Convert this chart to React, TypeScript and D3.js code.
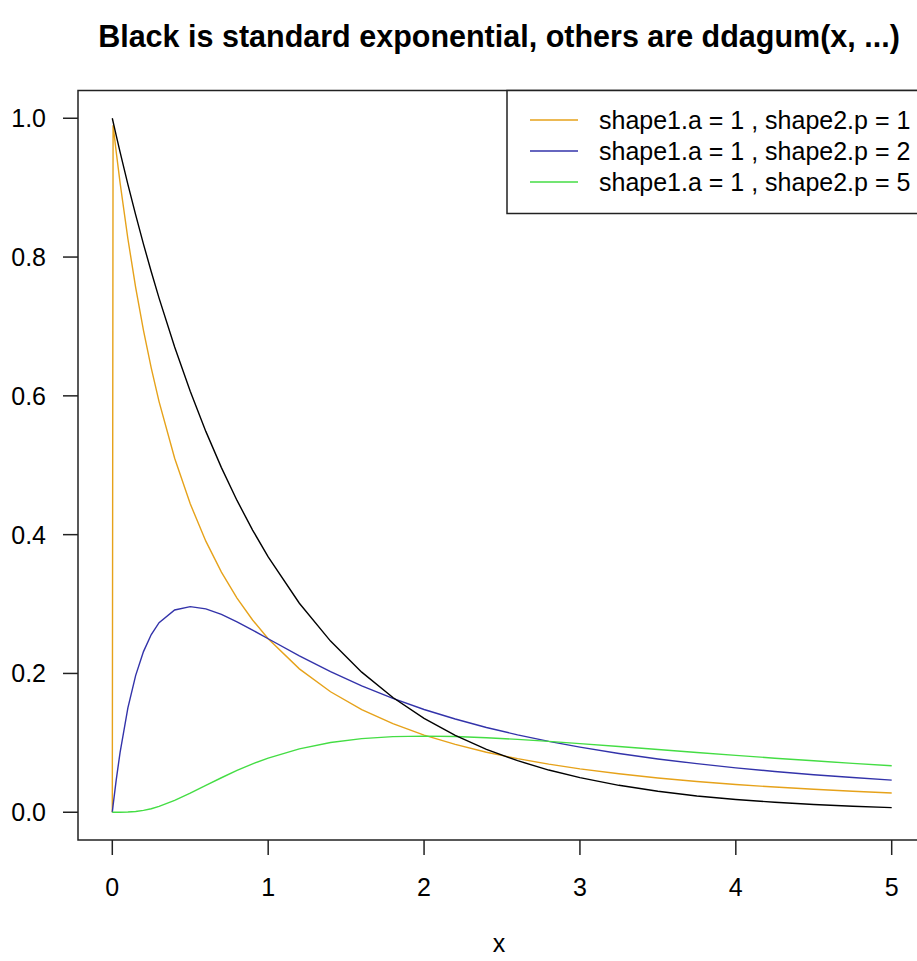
import { useMemo } from "react";
import * as d3 from "d3";

const WIDTH = 917;
const HEIGHT = 961;

// plot region (R style, padded domains)
const LEFT = 78;
const RIGHT = 926;
const TOP = 90.5;
const BOTTOM = 840;

const xValues = [
  0, 0.005, 0.025, 0.05, 0.1, 0.15, 0.2, 0.25, 0.3, 0.4, 0.5, 0.6, 0.7, 0.8, 0.9, 1.0,
  1.2, 1.4, 1.6, 1.8, 2.0, 2.2, 2.4, 2.6, 2.8, 3.0, 3.25, 3.5, 3.75, 4.0, 4.25, 4.5, 4.75, 5.0,
];

const expValues = [
  1, 0.995, 0.9753, 0.9512, 0.9048, 0.8607, 0.8187, 0.7788, 0.7408, 0.6703, 0.6065, 0.5488,
  0.4966, 0.4493, 0.4066, 0.3679, 0.3012, 0.2466, 0.2019, 0.1653, 0.1353, 0.1108, 0.0907,
  0.0743, 0.0608, 0.0498, 0.0388, 0.0302, 0.0235, 0.0183, 0.0143, 0.0111, 0.0087, 0.0067,
];

const p1Values = [
  0, 0.99, 0.9518, 0.907, 0.8264, 0.7561, 0.6944, 0.64, 0.5917, 0.5102, 0.4444, 0.3906,
  0.346, 0.3086, 0.277, 0.25, 0.2066, 0.1736, 0.1479, 0.1276, 0.1111, 0.0977, 0.0865,
  0.0772, 0.0693, 0.0625, 0.0554, 0.0494, 0.0443, 0.04, 0.0363, 0.0331, 0.0302, 0.0278,
];

const p2Values = [
  0, 0.0099, 0.0464, 0.0864, 0.1503, 0.1973, 0.2315, 0.256, 0.2731, 0.2915, 0.2963, 0.293,
  0.285, 0.2743, 0.2624, 0.25, 0.2254, 0.2025, 0.1821, 0.164, 0.1481, 0.1343, 0.1221,
  0.1115, 0.1021, 0.0938, 0.0847, 0.0768, 0.07, 0.064, 0.0587, 0.0541, 0.05, 0.0463,
];

const p5Values = [
  0, 0, 0, 0, 0.0003, 0.0011, 0.0027, 0.0051, 0.0084, 0.017, 0.0274, 0.0386, 0.0497,
  0.0602, 0.0697, 0.0781, 0.0914, 0.1005, 0.1061, 0.1089, 0.1097, 0.1091, 0.1074, 0.105,
  0.1021, 0.0989, 0.0947, 0.0904, 0.0861, 0.0819, 0.0779, 0.0741, 0.0704, 0.067,
];

const xTicks = [0, 1, 2, 3, 4, 5];
const yTicks = [0, 0.2, 0.4, 0.6, 0.8, 1.0];

const legendLabels = [
  "shape1.a = 1 , shape2.p = 1",
  "shape1.a = 1 , shape2.p = 2",
  "shape1.a = 1 , shape2.p = 5",
];
const legendColors = ["#E6A21A", "#3333AA", "#44DD44"];

const FONT = "'Liberation Sans', Arial, Helvetica, sans-serif";

export default function App() {
  // 0 sits 34px inside the left edge of the box, as in the original
  const x = useMemo(() => d3.scaleLinear().domain([0, 5]).range([112.3, 891.7]), []);
  const y = useMemo(() => d3.scaleLinear().domain([-0.04, 1.04]).range([BOTTOM, TOP]), []);

  const line = d3
    .line<[number, number]>()
    .x((d) => x(d[0]))
    .y((d) => y(d[1]));

  const series = [
    { values: p1Values, color: legendColors[0] },
    { values: p2Values, color: legendColors[1] },
    { values: p5Values, color: legendColors[2] },
    { values: expValues, color: "#000000" },
  ];

  return (
    <div style={{ position: "absolute", left: 0, top: 0 }}>
      <svg width={WIDTH} height={HEIGHT} style={{ display: "block", background: "#fff" }} fontFamily={FONT}>
        <text x={499} y={47} textAnchor="middle" fontSize={30.5} fontWeight="bold">
          Black is standard exponential, others are ddagum(x, ...)
        </text>

        {series.map((s, i) => (
          <path
            key={i}
            d={line(xValues.map((xv, j) => [xv, s.values[j]] as [number, number])) ?? ""}
            fill="none"
            stroke={s.color}
            strokeWidth={1.4}
          />
        ))}

        <rect x={LEFT} y={TOP} width={RIGHT - LEFT} height={BOTTOM - TOP} fill="none" stroke="#222" strokeWidth={1.5} />

        {xTicks.map((t) => (
          <g key={t} transform={`translate(${x(t)},${BOTTOM})`}>
            <line y2={15} stroke="#222" strokeWidth={1.5} />
            <text y={56} textAnchor="middle" fontSize={25}>
              {t}
            </text>
          </g>
        ))}

        {yTicks.map((t) => (
          <g key={t} transform={`translate(${LEFT},${y(t)})`}>
            <line x2={-15} stroke="#222" strokeWidth={1.5} />
            <text x={-32} dy="0.36em" textAnchor="end" fontSize={25}>
              {t.toFixed(1)}
            </text>
          </g>
        ))}

        <text x={499} y={952} textAnchor="middle" fontSize={25}>
          x
        </text>

        <rect x={507} y={TOP} width={440} height={123} fill="#fff" stroke="#222" strokeWidth={1.5} />
        {legendLabels.map((lab, i) => (
          <g key={lab} transform={`translate(0,${120 + i * 31})`}>
            <line x1={530} x2={578} stroke={legendColors[i]} strokeWidth={1.4} />
            <text x={599} dy="0.36em" fontSize={25}>
              {lab}
            </text>
          </g>
        ))}
      </svg>
    </div>
  );
}
